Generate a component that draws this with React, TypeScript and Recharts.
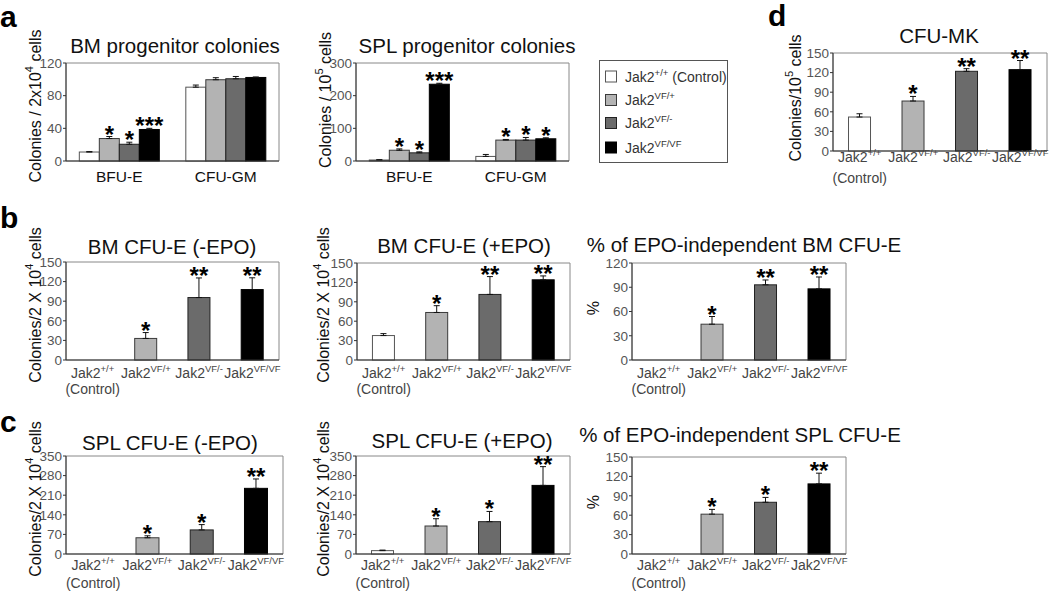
import React from "react";
import { BarChart, Bar, XAxis, YAxis, ErrorBar, Cell, ReferenceArea } from "recharts";

// ---------- data ----------
const genotypeSups = ["+/+", "VF/+", "VF/-", "VF/VF"];
const groupCategories = ["BFU-E", "CFU-GM"];

// a: BM progenitor colonies (per 2x10^4 cells)
const bmProgBfuE = [11, 27.5, 20.5, 38.6];
const bmProgBfuEErr = [0.5, 2.5, 2.5, 1.4];
const bmProgBfuESig = ["", "*", "*", "***"];
const bmProgCfuGm = [90.4, 99.5, 100.7, 102.3];
const bmProgCfuGmErr = [2.6, 2.5, 2.8, 0.6];
const bmProgCfuGmSig = ["", "", "", ""];
const bmProgTicks = [0, 40, 80, 120];

// a: SPL progenitor colonies (per 10^5 cells)
const splProgBfuE = [3, 33, 25, 235];
const splProgBfuEErr = [1, 4, 3, 3];
const splProgBfuESig = ["", "*", "*", "***"];
const splProgCfuGm = [14, 64, 64, 68];
const splProgCfuGmErr = [6, 2, 8, 3];
const splProgCfuGmSig = ["", "*", "*", "*"];
const splProgTicks = [0, 100, 200, 300];

// d: CFU-MK
const cfuMk = [52, 76.5, 122, 124.5];
const cfuMkErr = [5, 7, 4, 14];
const cfuMkSig = ["", "*", "**", "**"];

// b: BM CFU-E
const bmMinusEpo = [0, 33, 95.6, 107.8];
const bmMinusEpoErr = [0, 9, 30, 18];
const bmMinusEpoSig = ["", "*", "**", "**"];
const bmPlusEpo = [37.8, 73.5, 101.4, 124];
const bmPlusEpoErr = [3, 10.5, 27.6, 6];
const bmPlusEpoSig = ["", "*", "**", "**"];
const bmEpoIndep = [0, 44.3, 93, 88];
const bmEpoIndepErr = [0, 9.5, 6, 14.7];
const bmEpoIndepSig = ["", "*", "**", "**"];

// c: SPL CFU-E
const splMinusEpo = [0, 58, 86, 234.5];
const splMinusEpoErr = [0, 7, 19, 33.5];
const splMinusEpoSig = ["", "*", "*", "**"];
const splPlusEpo = [12, 100, 115.5, 245];
const splPlusEpoErr = [2, 26, 36.5, 67];
const splPlusEpoSig = ["", "*", "*", "**"];
const splEpoIndep = [0, 61.6, 80, 108.4];
const splEpoIndepErr = [0, 7.4, 7.5, 16.6];
const splEpoIndepSig = ["", "*", "*", "**"];

const ticks150 = [0, 30, 60, 90, 120, 150];
const ticks120 = [0, 30, 60, 90, 120];
const ticks350 = [0, 70, 140, 210, 280, 350];

// ---------- styles ----------
const FONT = "'Liberation Sans', Arial, Helvetica, sans-serif";
const barFills = ["#ffffff", "#b3b3b3", "#6b6b6b", "#000000"];
const barStrokes = ["#555555", "#3a3a3a", "#222222", "#000000"];
const YW = 50;
const MT = 14;
const MR = 4;
const XH = 45;

type Geo = { L: number; T: number; R: number; B: number };

const errPair = (v: number, e: number) => (v > 0 && e > 0 ? [0, e] : null);

function makeShape(valKey: string, errKey: string, sigKey: string) {
  return (p: any) => {
    const { x, y, width, height, fill, stroke, payload } = p;
    const v = payload?.[valKey] ?? 0;
    const eArr = payload?.[errKey];
    const e = Array.isArray(eArr) ? eArr[1] : 0;
    const s = payload?.[sigKey] ?? "";
    if (!height || height <= 0) return <g />;
    let star = null;
    if (s && v > 0) {
      const top = y - (e * height) / v;
      star = (
        <text x={x + width / 2} y={top + 6} textAnchor="middle" fontSize={24} fontWeight="bold" fill="#000" fontFamily={FONT}>
          {s}
        </text>
      );
    }
    return (
      <g>
        <rect x={x} y={y} width={width} height={height} fill={fill} stroke={stroke} strokeWidth={1} />
        {star}
      </g>
    );
  };
}

const GenoTick = (props: any) => {
  const { x, y, payload, l1, l2 } = props;
  const sup = payload?.value as string;
  return (
    <g>
      <text x={x} y={y + l1} textAnchor="middle" fontSize={14} fill="#444" fontFamily={FONT}>
        <tspan>Jak2</tspan>
        <tspan dy={-6} fontSize={9.5}>{sup}</tspan>
      </text>
      {sup === "+/+" ? (
        <text x={x} y={y + l2} textAnchor="middle" fontSize={14} fill="#444" fontFamily={FONT}>
          (Control)
        </text>
      ) : null}
    </g>
  );
};

const GroupTick = (props: any) => {
  const { x, y, payload } = props;
  return (
    <text x={x} y={y + 21} textAnchor="middle" fontSize={15.5} fill="#111" fontFamily={FONT}>
      {payload?.value}
    </text>
  );
};

function Box({ geo, children }: { geo: Geo; children: (w: number, h: number) => React.ReactNode }) {
  const w = geo.R - geo.L + YW + MR;
  const h = geo.B - geo.T + MT + XH;
  return <div style={{ position: "absolute", left: geo.L - YW, top: geo.T - MT, width: w, height: h }}>{children(w, h)}</div>;
}

const yTick = { fontSize: 13.5, fill: "#555" };

function SinglePanel(props: {
  geo: Geo;
  values: number[];
  errs: number[];
  sigs: string[];
  ticks: number[];
  l1: number;
  l2: number;
}) {
  const { geo, values, errs, sigs, ticks, l1, l2 } = props;
  const data = genotypeSups.map((g, i) => ({ geno: g, v: values[i], e: errPair(values[i], errs[i]), s: sigs[i] }));
  const max = ticks[ticks.length - 1];
  const shape = makeShape("v", "e", "s");
  return (
    <Box geo={geo}>
      {(w, h) => (
        <BarChart width={w} height={h} data={data} margin={{ top: MT, right: MR, left: 0, bottom: 0 }} barCategoryGap="29%">
          <ReferenceArea y1={0} y2={max} fill="none" stroke="#888" strokeWidth={1} fillOpacity={0} />
          <XAxis
            dataKey="geno"
            height={XH}
            interval={0}
            tickSize={0}
            tickMargin={0}
            tickLine={false}
            axisLine={{ stroke: "#333" }}
            tick={<GenoTick l1={l1} l2={l2} />}
          />
          <YAxis
            width={YW}
            domain={[0, max]}
            ticks={ticks}
            interval={0}
            tickSize={3}
            tickMargin={1}
            axisLine={{ stroke: "#333" }}
            tickLine={{ stroke: "#333" }}
            tick={yTick}
          />
          <Bar dataKey="v" isAnimationActive={false} shape={shape}>
            {data.map((_, i) => (
              <Cell key={i} fill={barFills[i]} stroke={barStrokes[i]} />
            ))}
            <ErrorBar dataKey="e" width={3} stroke="#111" strokeWidth={1} direction="y" />
          </Bar>
        </BarChart>
      )}
    </Box>
  );
}

function GroupPanel(props: {
  geo: Geo;
  series: { vals: number[]; errs: number[]; sigs: string[] }[];
  ticks: number[];
}) {
  const { geo, series, ticks } = props;
  const data = groupCategories.map((c, ci) => {
    const row: any = { cat: c };
    genotypeSups.forEach((_, gi) => {
      row["v" + gi] = series[ci].vals[gi];
      row["e" + gi] = errPair(series[ci].vals[gi], series[ci].errs[gi]);
      row["s" + gi] = series[ci].sigs[gi];
    });
    return row;
  });
  const max = ticks[ticks.length - 1];
  return (
    <Box geo={geo}>
      {(w, h) => (
        <BarChart width={w} height={h} data={data} margin={{ top: MT, right: MR, left: 0, bottom: 0 }} barCategoryGap="12.5%" barGap={0}>
          <ReferenceArea y1={0} y2={max} fill="none" stroke="#888" strokeWidth={1} fillOpacity={0} />
          <XAxis
            dataKey="cat"
            height={XH}
            interval={0}
            tickSize={0}
            tickMargin={0}
            tickLine={false}
            axisLine={{ stroke: "#333" }}
            tick={<GroupTick />}
          />
          <YAxis
            width={YW}
            domain={[0, max]}
            ticks={ticks}
            interval={0}
            tickSize={3}
            tickMargin={1}
            axisLine={{ stroke: "#333" }}
            tickLine={{ stroke: "#333" }}
            tick={yTick}
          />
          {genotypeSups.map((_, gi) => (
            <Bar
              key={gi}
              dataKey={"v" + gi}
              isAnimationActive={false}
              fill={barFills[gi]}
              stroke={barStrokes[gi]}
              shape={makeShape("v" + gi, "e" + gi, "s" + gi)}
            >
              <ErrorBar dataKey={"e" + gi} width={3} stroke="#111" strokeWidth={1} direction="y" />
            </Bar>
          ))}
        </BarChart>
      )}
    </Box>
  );
}

function Title({ x, y, text }: { x: number; y: number; text: string }) {
  return (
    <text x={x} y={y} textAnchor="middle" fontSize={20.5} fill="#111">
      {text}
    </text>
  );
}

function YLabel({ cx, cy, pre, sup, post }: { cx: number; cy: number; pre: string; sup?: string; post?: string }) {
  return (
    <text x={cx} y={cy} transform={`rotate(-90 ${cx} ${cy})`} textAnchor="middle" dominantBaseline="central" fontSize={16} fill="#111">
      <tspan>{pre}</tspan>
      {sup ? <tspan dy={-6} fontSize={11}>{sup}</tspan> : null}
      {post ? <tspan dy={sup ? 6 : 0}>{post}</tspan> : null}
    </text>
  );
}

function Letter({ x, y, t }: { x: number; y: number; t: string }) {
  return (
    <text x={x} y={y} fontSize={30} fontWeight="bold" fill="#000">
      {t}
    </text>
  );
}

const legendRows = [76.5, 100, 123, 147.5];

export default function App() {
  return (
    <div style={{ position: "absolute", left: 0, top: 0, width: 1050, height: 594, background: "#fff", fontFamily: FONT, overflow: "hidden" }}>
      <GroupPanel
        geo={{ L: 66, T: 63, R: 279, B: 161 }}
        ticks={bmProgTicks}
        series={[
          { vals: bmProgBfuE, errs: bmProgBfuEErr, sigs: bmProgBfuESig },
          { vals: bmProgCfuGm, errs: bmProgCfuGmErr, sigs: bmProgCfuGmSig },
        ]}
      />
      <GroupPanel
        geo={{ L: 356, T: 63, R: 569, B: 161 }}
        ticks={splProgTicks}
        series={[
          { vals: splProgBfuE, errs: splProgBfuEErr, sigs: splProgBfuESig },
          { vals: splProgCfuGm, errs: splProgCfuGmErr, sigs: splProgCfuGmSig },
        ]}
      />
      <SinglePanel geo={{ L: 833, T: 53, R: 1047, B: 151 }} values={cfuMk} errs={cfuMkErr} sigs={cfuMkSig} ticks={ticks150} l1={11} l2={32} />
      <SinglePanel geo={{ L: 66, T: 262, R: 279, B: 360 }} values={bmMinusEpo} errs={bmMinusEpoErr} sigs={bmMinusEpoSig} ticks={ticks150} l1={18} l2={34} />
      <SinglePanel geo={{ L: 357, T: 263, R: 570, B: 360 }} values={bmPlusEpo} errs={bmPlusEpoErr} sigs={bmPlusEpoSig} ticks={ticks150} l1={18} l2={34} />
      <SinglePanel geo={{ L: 632, T: 263, R: 846, B: 360 }} values={bmEpoIndep} errs={bmEpoIndepErr} sigs={bmEpoIndepSig} ticks={ticks120} l1={18} l2={34} />
      <SinglePanel geo={{ L: 66, T: 456, R: 283, B: 554 }} values={splMinusEpo} errs={splMinusEpoErr} sigs={splMinusEpoSig} ticks={ticks350} l1={16} l2={34} />
      <SinglePanel geo={{ L: 356, T: 456, R: 570, B: 554 }} values={splPlusEpo} errs={splPlusEpoErr} sigs={splPlusEpoSig} ticks={ticks350} l1={16} l2={34} />
      <SinglePanel geo={{ L: 632, T: 457, R: 846, B: 554 }} values={splEpoIndep} errs={splEpoIndepErr} sigs={splEpoIndepSig} ticks={ticks150} l1={16} l2={34} />

      <svg width={1050} height={594} style={{ position: "absolute", left: 0, top: 0, pointerEvents: "none" }} fontFamily={FONT}>
        <Letter x={0} y={27} t="a" />
        <Letter x={0} y={228} t="b" />
        <Letter x={0} y={432} t="c" />
        <Letter x={768} y={26} t="d" />

        <Title x={175} y={53} text="BM progenitor colonies" />
        <Title x={467} y={53} text="SPL progenitor colonies" />
        <Title x={939} y={43} text="CFU-MK" />
        <Title x={172} y={254} text="BM CFU-E (-EPO)" />
        <Title x={464} y={253} text="BM CFU-E (+EPO)" />
        <Title x={744} y={252} text="% of EPO-independent BM CFU-E" />
        <Title x={170} y={450} text="SPL CFU-E (-EPO)" />
        <Title x={462} y={448} text="SPL CFU-E (+EPO)" />
        <Title x={740} y={442} text="% of EPO-independent SPL CFU-E" />

        <YLabel cx={35} cy={106} pre="Colonies / 2x10" sup="4" post=" cells" />
        <YLabel cx={325} cy={100} pre="Colonies / 10" sup="5" post=" cells" />
        <YLabel cx={795} cy={98} pre="Colonies/10" sup="5" post=" cells" />
        <YLabel cx={35} cy={305} pre="Colonies/2 X 10" sup="4" post=" cells" />
        <YLabel cx={323} cy={305} pre="Colonies/2 X 10" sup="4" post=" cells" />
        <YLabel cx={35} cy={499} pre="Colonies/2 X 10" sup="4" post=" cells" />
        <YLabel cx={323} cy={499} pre="Colonies/2 X 10" sup="4" post=" cells" />
        <YLabel cx={593} cy={308} pre="%" />
        <YLabel cx={593} cy={502} pre="%" />

        <rect x={599.5} y={60.5} width={128} height={102} fill="#fff" stroke="#555" strokeWidth={1} />
        {legendRows.map((cy, i) => (
          <g key={i}>
            <rect x={605.5} y={cy - 5.5} width={11} height={11} fill={barFills[i]} stroke={barStrokes[i]} strokeWidth={1} />
            <text x={625} y={cy + 5} fontSize={14} fill="#333">
              <tspan>Jak2</tspan>
              <tspan dy={-6} fontSize={9.5}>{genotypeSups[i]}</tspan>
              {i === 0 ? <tspan dy={6}>{"\u00a0(Control)"}</tspan> : null}
            </text>
          </g>
        ))}
      </svg>
    </div>
  );
}
